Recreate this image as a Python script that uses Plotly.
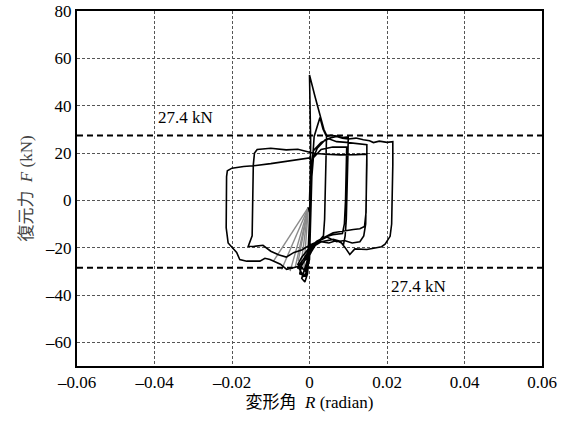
import plotly.graph_objects as go

# ---------------- data ----------------
# Main hysteresis path (drift angle R [rad], restoring force F [kN])
R = [0.0, 0.0002, 0.0003, 0.0001, 0.0, 0.0014, 0.0027, 0.0037, 0.0044,
     0.0043, 0.0041, 0.0039, 0.0036, 0.0025, 0.001, -0.0005, -0.0015, -0.002, -0.0012, -0.0005,
     0.0, 0.0003, 0.0005, 0.0012, 0.0027, 0.0035, 0.0044, 0.0055, 0.007, 0.0085, 0.010,
     0.0099, 0.0097, 0.0095, 0.0092, 0.0088, 0.007, 0.005, 0.003, 0.0015, 0.0, -0.002, -0.003,
     -0.0015, -0.0005, 0.0, 0.0004, 0.0006, 0.001, 0.003, 0.006, 0.0096,
     0.0095, 0.0093, 0.009, 0.0085, 0.006, 0.004, 0.002, 0.0, -0.002, -0.0025, -0.001,
     -0.0003, 0.0002, 0.0005, 0.001, 0.003, 0.005, 0.007, 0.0095, 0.012, 0.0148,
     0.0148, 0.0147, 0.0145, 0.014, 0.013, 0.011, 0.009, 0.007, 0.0045, 0.002, 0.0,
     -0.002, -0.004, -0.006, -0.008, -0.010, -0.012, -0.0145, -0.0158,
     -0.0148, -0.0147, -0.0145, -0.0142, -0.0135, -0.010, -0.006, -0.003, 0.0,
     0.0008, 0.004, 0.008, 0.012, 0.0148,
     0.0147, 0.0146, 0.0142, 0.013, 0.0113, 0.0087, 0.0061, 0.0044, 0.0019, 0.0,
     -0.002, -0.003, -0.001, 0.0, 0.0003, 0.0006, 0.001,
     0.002, 0.004, 0.0053, 0.007, 0.0085, 0.010, 0.012, 0.0139, 0.0155, 0.0165, 0.018, 0.020, 0.0215,
     0.0215, 0.0214, 0.0212, 0.0208, 0.0195, 0.0186, 0.0148, 0.0117, 0.0104, 0.0092, 0.0079,
     0.0061, 0.004, 0.0019, 0.0, -0.0016, -0.003, -0.0059, -0.0075, -0.0093, -0.0102,
     -0.0115, -0.0128, -0.0162, -0.018, -0.0188, -0.021, -0.0215, -0.0215, -0.0214,
     -0.0212, -0.020, -0.017, -0.0145, -0.010, -0.0059, -0.003, 0.0,
     0.0005, 0.0003, 0.0, -0.0003]
F = [0.0, 10, 25, 40, 53, 44, 35.5, 30, 27.5,
     20, 5, -8, -15, -17, -20, -25, -30, -33, -34.5, -31,
     -20, -5, 10, 27, 35, 30, 27, 27.5, 27.2, 26.5, 26.8,
     18, 5, -8, -15, -18.5, -17, -18, -17.5, -19, -23, -27, -28,
     -32, -30, -15, 0, 12, 18, 21.5, 22.5, 22.5,
     12, 0, -10, -14, -14.5, -15.5, -17.5, -22, -27.5, -31, -32,
     -20, 0, 15, 21, 24.5, 26, 24.8, 24.5, 24, 23.5,
     15, 0, -10, -15, -17.5, -18, -17, -17.5, -15.5, -17.5, -19,
     -21, -22, -24, -23, -21.5, -19, -19.5, -19.4,
     -15, 0, 15, 20, 21.5, 22, 21.3, 21.6, 20.5,
     20, 19.5, 19.2, 19.3, 19.5,
     10, -5, -11, -12, -12.3, -13, -13.7, -15.2, -17.3, -20,
     -24, -27, -30, -25, -5, 10, 18,
     22, 25.5, 26.3, 27, 26.2, 25.9, 26.3, 25.6, 25.2, 24.4, 25, 24.5, 24.8,
     15, 0, -10, -15.2, -18.5, -19.6, -20.8, -20.5, -22.9, -20, -17.3,
     -16.5, -17.3, -17.9, -20.8, -25, -28, -29.2, -27, -25.5, -25,
     -24.5, -25.7, -25.7, -25, -22, -18, -11.6, 0, 10,
     12.5, 13.6, 14.3, 14.6, 15.5, 16.4, 17.2, 17.9,
     16, 5, -5, -3]

# Gray straight segments (data gaps) from a common start point
gray_start = (-0.0003, -3.0)
gray_end_R = [-0.0093, -0.0072, -0.0050, -0.0037, -0.0029, -0.0025, -0.0016]
gray_end_F = [-25.7, -29.2, -29.9, -28.5, -25.7, -31.3, -32.0]

# Reference levels (dashed) and their labels
ref_levels = [27.4, -28.5]
ref_labels = ["27.4 kN", "27.4 kN"]
ref_label_R = [-0.0395, 0.0205]
ref_label_F = [34.8, -36.2]

x_ticks = [-0.06, -0.04, -0.02, 0, 0.02, 0.04, 0.06]
x_ticktext = ["\u20130.06", "\u20130.04", "\u20130.02", "0", "0.02", "0.04", "0.06"]
y_ticks = [-60, -40, -20, 0, 20, 40, 60, 80]
y_ticktext = ["\u201360", "\u201340", "\u201320", "0", "20", "40", "60", "80"]

# ---------------- figure ----------------
FONT = "Liberation Serif, Noto Sans CJK JP, serif"

gx, gy = [], []
for ex, ey in zip(gray_end_R, gray_end_F):
    gx += [gray_start[0], ex, None]
    gy += [gray_start[1], ey, None]

fig = go.Figure()
fig.add_trace(go.Scatter(x=gx, y=gy, mode="lines",
                         line=dict(color="#8a8a8a", width=1.4),
                         hoverinfo="skip", showlegend=False))
fig.add_trace(go.Scatter(x=R, y=F, mode="lines",
                         line=dict(color="black", width=1.6),
                         showlegend=False))

for lv in ref_levels:
    fig.add_shape(type="line", xref="paper", x0=0, x1=1, yref="y", y0=lv, y1=lv,
                  line=dict(color="black", width=2, dash="6px,4px"), layer="above")

for t, lx, ly in zip(ref_labels, ref_label_R, ref_label_F):
    fig.add_annotation(x=lx, y=ly, text=t, showarrow=False, xanchor="left",
                       yanchor="middle", font=dict(family=FONT, size=17, color="black"))

fig.update_layout(
    width=571, height=423,
    margin=dict(l=77, r=29, t=11, b=57, autoexpand=False),
    paper_bgcolor="white", plot_bgcolor="white",
    font=dict(family=FONT, size=17, color="black"),
)
fig.update_xaxes(
    range=[-0.06, 0.06], tickvals=x_ticks, ticktext=x_ticktext,
    showgrid=True, gridcolor="#555555", gridwidth=1, griddash="3px,2px",
    zeroline=False, showline=True, linecolor="black", linewidth=2, mirror=True,
    ticks="", tickfont=dict(family=FONT, size=17), automargin=False,
    title=dict(text="変形角\u2002<i>R</i> (radian)", standoff=5,
               font=dict(family=FONT, size=17)),
)
fig.update_yaxes(
    range=[-70, 80], tickvals=y_ticks, ticktext=y_ticktext,
    showgrid=True, gridcolor="#555555", gridwidth=1, griddash="3px,2px",
    zeroline=False, showline=True, linecolor="black", linewidth=2, mirror=True,
    ticks="", tickfont=dict(family=FONT, size=17), automargin=False,
    title=dict(text="復元力\u2002<i>F</i> (kN)", standoff=8,
               font=dict(family=FONT, size=17, color="#444444")),
)

fig.write_html("out.html", post_script="document.body.style.margin='0';",
               config={"displayModeBar": False})
